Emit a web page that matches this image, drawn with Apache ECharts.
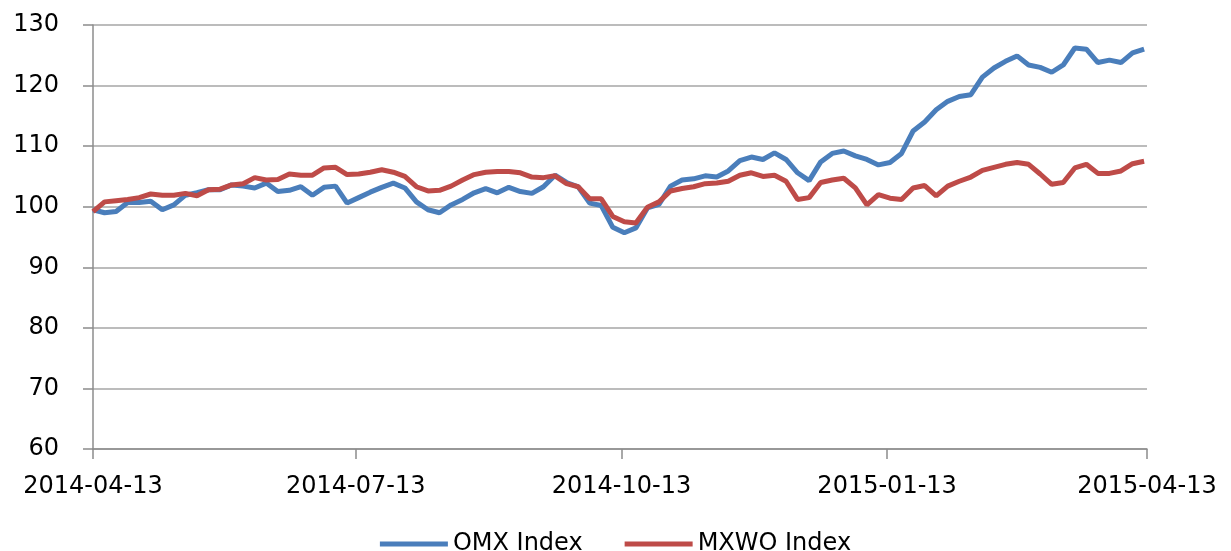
<!DOCTYPE html>
<html>
<head>
<meta charset="utf-8">
<script src="https://cdn.jsdelivr.net/npm/echarts@6/dist/echarts.min.js"></script>
<style>
  html, body { margin: 0; padding: 0; background: #fff; }
</style>
</head>
<body>
<div id="myChart" style="width: 1231px; height: 551px"></div>
<script>
// 指数走势，每4天取一个点，从2014-04-13开始
const startDate = '2014-04-13';
const endDate = '2015-04-13';
const stepDays = 4;
const tickDates = ['2014-04-13', '2014-07-13', '2014-10-13', '2015-01-13', '2015-04-13'];
const seriesNames = ['OMX Index', 'MXWO Index'];

const omx = [
  99.5, 99.0, 99.2, 100.7, 100.7, 100.9, 99.5, 100.3, 101.9, 102.3,
  102.8, 102.8, 103.6, 103.4, 103.1, 103.9, 102.5, 102.7, 103.3, 101.9,
  103.2, 103.4, 100.6, 101.5, 102.4, 103.2, 103.9, 103.1, 100.8, 99.5,
  99.0, 100.3, 101.2, 102.3, 103.0, 102.3, 103.2, 102.5, 102.2, 103.3,
  105.2, 104.0, 103.3, 100.6, 100.2, 96.6, 95.7, 96.5, 99.8, 100.4,
  103.4, 104.4, 104.6, 105.1, 104.9, 105.9, 107.6, 108.2, 107.8, 108.9,
  107.8, 105.6, 104.3, 107.4, 108.8, 109.2, 108.4, 107.8, 106.9, 107.3,
  108.8, 112.5, 114.0, 116.0, 117.4, 118.2, 118.5, 121.4, 122.9, 124.0,
  124.9, 123.4, 123.0, 122.2, 123.4, 126.2, 126.0, 123.8, 124.2, 123.8,
  125.4, 126.0
];

const mxwo = [
  99.2, 100.8, 101.0, 101.2, 101.5, 102.1, 101.9, 101.9, 102.2, 101.8,
  102.8, 102.9, 103.6, 103.8, 104.8, 104.4, 104.5, 105.4, 105.2, 105.2,
  106.4, 106.5, 105.3, 105.4, 105.7, 106.1, 105.7, 105.0, 103.3, 102.6,
  102.7, 103.4, 104.4, 105.3, 105.7, 105.8, 105.8, 105.6, 104.9, 104.8,
  105.1, 103.8, 103.3, 101.3, 101.3, 98.4, 97.5, 97.3, 99.9, 100.8,
  102.6, 103.0, 103.3, 103.8, 103.9, 104.2, 105.2, 105.6, 105.0, 105.2,
  104.2, 101.2, 101.5, 104.0, 104.4, 104.7, 103.1, 100.3, 102.0, 101.4,
  101.2, 103.1, 103.5, 101.8, 103.4, 104.2, 104.9, 106.0, 106.5, 107.0,
  107.3, 107.0, 105.4, 103.7, 104.0, 106.4, 107.0, 105.5, 105.5, 105.9,
  107.1, 107.5
];

const DAY = 24 * 60 * 60 * 1000;
function toTime(s) {
  const p = s.split('-');
  return Date.UTC(+p[0], +p[1] - 1, +p[2]);
}
function pad(n) { return n < 10 ? '0' + n : '' + n; }
function formatDate(v) {
  const d = new Date(v);
  return d.getUTCFullYear() + '-' + pad(d.getUTCMonth() + 1) + '-' + pad(d.getUTCDate());
}

const t0 = toTime(startDate);
const dates = omx.map((_, i) => t0 + i * stepDays * DAY);
const ticks = tickDates.map(toTime);

const font = 'DejaVu Sans';
const axisGray = '#8c8c8c';

let myChart = echarts.init(document.getElementById('myChart'));
myChart.setOption({
  animation: false,
  textStyle: { fontFamily: font },
  grid: { left: 93, right: 84, top: 25, bottom: 102 },
  legend: {
    data: seriesNames,
    top: 527,
    left: 'center',
    icon: 'rect',
    itemWidth: 68,
    itemHeight: 5,
    itemGap: 42,
    textStyle: { fontFamily: font, fontSize: 24, color: '#000' }
  },
  xAxis: {
    type: 'value',
    min: toTime(startDate),
    max: toTime(endDate),
    axisLine: { lineStyle: { color: axisGray, width: 1.5 } },
    axisTick: { show: true, length: 10, customValues: ticks, lineStyle: { color: axisGray, width: 1.5 } },
    axisLabel: {
      customValues: ticks,
      formatter: (v) => formatDate(v),
      margin: 26,
      fontFamily: font,
      fontSize: 24,
      color: '#000'
    },
    splitLine: { show: false }
  },
  yAxis: {
    type: 'value',
    min: 60,
    max: 130,
    interval: 10,
    axisLine: { show: true, lineStyle: { color: axisGray, width: 1.5 } },
    axisTick: { show: true, length: 10, lineStyle: { color: axisGray, width: 1.5 } },
    axisLabel: { margin: 34, fontFamily: font, fontSize: 24, color: '#000' },
    splitLine: { lineStyle: { color: '#a6a6a6', width: 1.5 } }
  },
  series: [
    {
      name: seriesNames[0],
      type: 'line',
      showSymbol: false,
      data: dates.map((d, i) => [d, omx[i]]),
      itemStyle: { color: '#4a7ebb' },
      lineStyle: { color: '#4a7ebb', width: 5 }
    },
    {
      name: seriesNames[1],
      type: 'line',
      showSymbol: false,
      data: dates.map((d, i) => [d, mxwo[i]]),
      itemStyle: { color: '#be4b48' },
      lineStyle: { color: '#be4b48', width: 5 }
    }
  ]
});
</script>
</body>
</html>
